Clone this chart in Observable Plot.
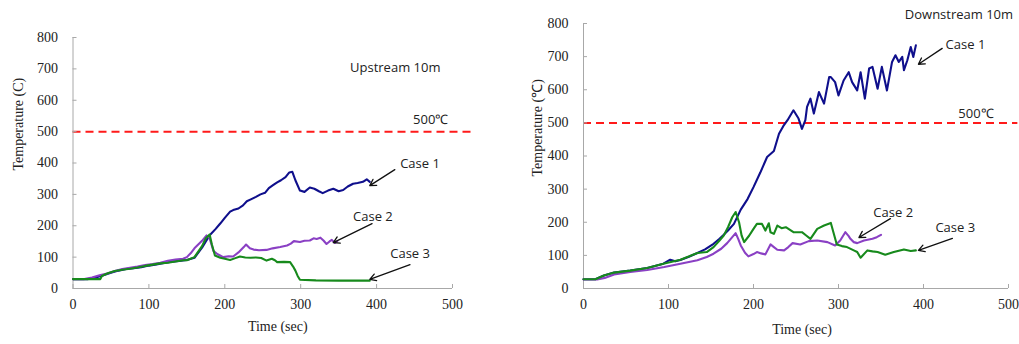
<!DOCTYPE html>
<html><head><meta charset="utf-8">
<script src="https://cdn.jsdelivr.net/npm/d3@7"></script>
<script src="https://cdn.jsdelivr.net/npm/@observablehq/plot@0.6"></script>
<style>
body{margin:0;background:#fff;}
#wrap{position:relative;width:1019px;height:344px;overflow:hidden;background:#fff;}
#left{position:absolute;left:0;top:0;}
#right{position:absolute;left:510px;top:0;}
</style></head><body><div id="wrap"><div id="left"></div><div id="right"></div></div>
<script>
// ---- shared ----
const caseNames = ["Case 1", "Case 2", "Case 3"];
const caseColors = ["#0f0f8c", "#8a40c4", "#178a1c"];
const xTicks = [0, 100, 200, 300, 400, 500];
const yTicks = [0, 100, 200, 300, 400, 500, 600, 700, 800];
const thresholdV = [500];
const xLabel = "Time (sec)";

// ---- Upstream 10m ----
const upC1t = [0,20,30,40,50,60,70,80,90,100,110,120,130,140,150,160,170,175,181,188,194,200,207,211,218,224,229,235,241,247,253,258,264,269,274,280,285,289,293,299,305,312,318,324,329,336,343,350,356,362,369,375,382,387,391];
const upC1v = [30,30,35,42,50,57,62,65,68,73,77,81,85,88,91,98,130,150,172,190,207,225,245,250,255,265,278,285,292,300,305,320,330,338,345,355,370,372,345,312,308,322,318,310,304,312,318,310,314,325,334,336,340,348,340];
const upC2t = [0,15,25,35,45,55,65,75,85,95,105,115,125,135,145,150,155,160,165,170,176,180,185,190,198,205,211,218,225,228,233,238,245,255,263,273,282,287,291,299,305,312,317,321,326,330,334,338,341,345,348];
const upC2v = [30,30,35,42,48,56,62,66,70,75,78,82,88,92,95,100,112,128,140,152,169,160,120,110,100,103,102,115,132,140,128,124,122,123,128,132,137,143,151,148,152,153,160,158,162,153,142,150,155,145,150];
const upC3t = [0,36,38,45,55,65,75,85,95,105,115,125,135,145,150,160,170,175,180,183,187,194,200,207,213,220,227,234,241,248,255,262,266,269,278,286,290,293,296,299,320,350,391];
const upC3v = [30,30,40,48,56,60,63,67,72,76,80,82,86,90,90,100,135,160,172,140,105,98,95,91,96,102,99,98,99,97,89,95,90,84,85,84,70,57,40,28,26,25,25];
const upDashEnd = [526];
const upYLabel = "Temperature (C)";
const upYLabelAt = [376];
const upAnnoText = ["Upstream 10m", "500℃", "Case 1", "Case 2", "Case 3"];
const upAnnoX = [365, 448, 431, 369, 418];
const upAnnoY = [704, 538, 398, 229, 111];
const upArrX1 = [424, 394, 444];
const upArrY1 = [379, 207, 76];
const upArrX2 = [391, 343, 391];
const upArrY2 = [328, 146, 29];

// ---- Downstream 10m ----
const dnC1t = [0,14,24,36,55,75,94,102,108,114,124,134,143,153,160,165,170,177,185,193,200,208,216,224,230,235,240,247,253,257,261,263,267,271,277,283,289,291,296,300,306,312,316,322,326,331,336,340,346,351,357,363,367,371,375,377,381,385,388,391];
const dnC1v = [28,28,39,48,54,62,75,87,82,86,96,107,118,135,150,162,175,195,238,270,306,350,397,415,467,490,508,538,513,482,508,548,573,528,593,558,638,638,623,583,628,653,623,598,653,573,664,669,603,669,598,684,704,684,699,659,689,729,699,734];
const dnC2t = [0,16,25,36,55,75,95,114,134,145,153,162,169,179,182,185,190,194,200,204,209,214,220,224,228,236,241,246,255,265,275,287,296,302,308,312,314,318,322,330,340,345,350];
const dnC2v = [27,27,32,42,50,56,65,75,85,95,105,120,137,167,150,130,108,97,104,110,106,103,133,125,117,115,125,137,133,143,145,140,130,145,170,158,150,140,137,145,150,155,162];
const dnC3t = [0,14,24,36,55,75,94,114,134,145,153,160,165,170,175,179,183,186,189,195,200,204,210,214,218,220,224,228,233,238,247,257,262,267,275,283,291,294,298,304,310,318,322,326,334,340,346,355,365,377,385,391];
const dnC3v = [28,28,39,48,54,62,75,87,107,110,125,145,160,185,215,231,200,160,140,160,180,195,195,175,197,170,165,190,182,185,170,170,160,150,180,190,198,170,133,128,125,115,110,93,115,112,110,102,110,118,113,115];
const dnDashEnd = [511];
const dnYLabel = "Temperature (℃)";
const dnYLabelAt = [338];
const dnAnnoText = ["Downstream 10m", "500℃", "Case 1", "Case 2", "Case 3"];
const dnAnnoX = [378, 441, 426, 341, 414];
const dnAnnoY = [825, 526, 737, 227, 184];
const dnArrX1 = [422, 361, 434];
const dnArrY1 = [725, 211, 151];
const dnArrX2 = [394, 324, 394];
const dnArrY2 = [677, 154, 115];

function rowsOf(ts, vs) {
  const rows = [];
  ts.forEach((t, k) => t.forEach((x, i) => rows.push({t: x, v: vs[k][i], c: caseNames[k]})));
  return rows;
}
function zipAnno(tx, xs, ys) { return tx.map((s, i) => ({s, x: xs[i], y: ys[i]})); }
function zipArr(x1, y1, x2, y2) { return x1.map((d, i) => ({x1: d, y1: y1[i], x2: x2[i], y2: y2[i]})); }

const serif = "'Liberation Serif','Times New Roman',serif";
const sans = "'Open Sans','Liberation Sans',sans-serif";

function panel(cfg) {
  return Plot.plot({
    width: cfg.width, height: 344,
    marginLeft: cfg.ml, marginRight: cfg.mr, marginTop: cfg.mt, marginBottom: 56,
    x: {domain: [0, 500]},
    y: {domain: [0, 800]},
    color: {domain: caseNames, range: caseColors},
    style: {fontFamily: serif, fontSize: "14px", color: "#222", background: "transparent", overflow: "visible"},
    marks: [
      Plot.ruleY(thresholdV, {x1: 0, x2: cfg.dashEnd[0], stroke: "#ff1a1a", strokeWidth: 2, strokeDasharray: "8,5"}),
      Plot.ruleY([0], {x1: 0, x2: 500, stroke: "#a8a8a8"}),
      Plot.ruleX([0], {y1: 0, y2: 800, stroke: "#a8a8a8"}),
      Plot.axisY({ticks: yTicks, tickSize: -4, tickPadding: 19, stroke: "#a8a8a8", fill: "#222", label: null, fontSize: 14}),
      Plot.axisX({ticks: xTicks, tickSize: -4, tickPadding: 15, stroke: "#a8a8a8", fill: "#222", label: null, fontSize: 14}),
      Plot.text(cfg.yLabelAt, {y: d => d, frameAnchor: "left", dx: cfg.yLabDx, rotate: -90, text: () => cfg.yLabel, fontSize: 14, fill: "#222"}),
      Plot.text([xLabel], {frameAnchor: "bottom", dx: cfg.xLabDx, dy: cfg.xLabDy, fontSize: 14, fill: "#222"}),
      Plot.line(cfg.rows, {x: "t", y: "v", z: "c", stroke: "c", strokeWidth: 2.1}),
      Plot.text(cfg.anno, {x: "x", y: "y", text: "s", textAnchor: "start", fontFamily: sans, fontSize: 13, fill: "#222"}),
      Plot.arrow(cfg.arrows, {x1: "x1", y1: "y1", x2: "x2", y2: "y2", stroke: "#111", strokeWidth: 1.3, headLength: 8})
    ]
  });
}

document.getElementById("left").append(panel({
  width: 510, ml: 72.5, mr: 58, mt: 37,
  rows: rowsOf([upC1t, upC2t, upC3t], [upC1v, upC2v, upC3v]),
  dashEnd: upDashEnd, yLabel: upYLabel, yLabelAt: upYLabelAt, yLabDx: -54, xLabDx: 15, xLabDy: 42,
  anno: zipAnno(upAnnoText, upAnnoX, upAnnoY),
  arrows: zipArr(upArrX1, upArrY1, upArrX2, upArrY2)
}));
document.getElementById("right").append(panel({
  width: 509, ml: 73, mr: 11, mt: 23,
  rows: rowsOf([dnC1t, dnC2t, dnC3t], [dnC1v, dnC2v, dnC3v]),
  dashEnd: dnDashEnd, yLabel: dnYLabel, yLabelAt: dnYLabelAt, yLabDx: -46, xLabDx: 6, xLabDy: 45,
  anno: zipAnno(dnAnnoText, dnAnnoX, dnAnnoY),
  arrows: zipArr(dnArrX1, dnArrY1, dnArrX2, dnArrY2)
}));
</script></body></html>
